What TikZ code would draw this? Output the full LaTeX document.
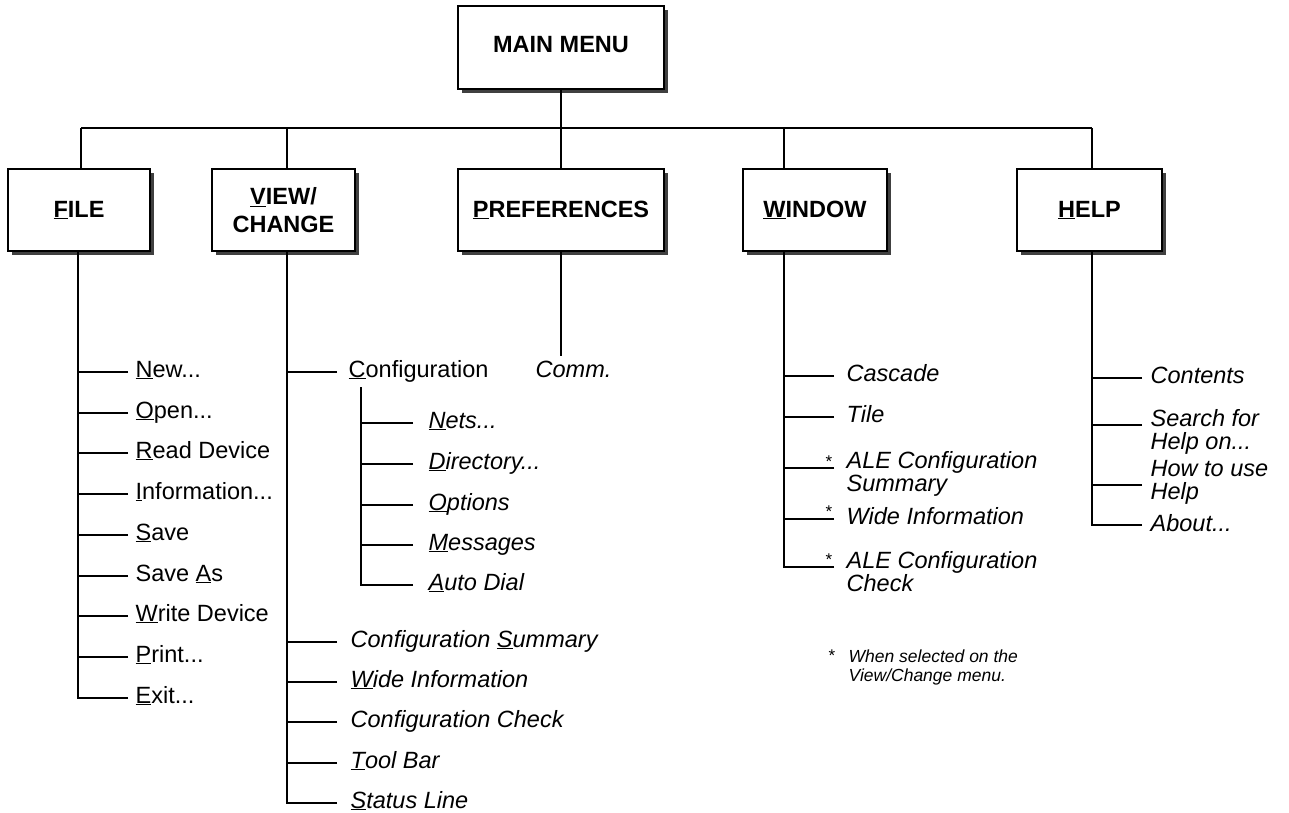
\documentclass[tikz,border=0pt]{standalone}
\usepackage{fontspec}
\setmainfont{Liberation Sans}
\usetikzlibrary{shadows}
\newcommand\mn[1]{\underline{#1}}
\newcommand\two[2]{\begin{tabular}[t]{@{}l@{}}#1\\#2\end{tabular}}
\begin{document}
\begin{tikzpicture}[x=1pt,y=-1pt,
  line width=1.3pt,
  menubox/.style={draw, line width=1.3pt, fill=white, inner sep=0pt,
     drop shadow={shadow xshift=4pt, shadow yshift=-4pt, fill=black!75, opacity=1},
     font=\fontsize{23.5}{28}\selectfont\bfseries, align=center, minimum height=82pt},
  itm/.style={anchor=base west, inner xsep=0pt, inner ysep=4pt, font=\fontsize{23.5}{23}\selectfont},
  iitm/.style={itm, font=\fontsize{23.5}{23}\selectfont\itshape},
  star/.style={font=\fontsize{17}{17}\selectfont, inner sep=0pt},
]
\useasboundingbox (0,0) rectangle (1289,812);

% boxes
\node[menubox, minimum width=206pt, minimum height=83pt] (main) at (561,47.5) {\raisebox{6pt}{MAIN MENU}};
\node[menubox, minimum width=142pt] (file) at (79,210) {\mn{F}ILE};
\node[menubox, minimum width=143pt] (view) at (283.5,210) {\mn{V}IEW/\\CHANGE};
\node[menubox, minimum width=206pt] (pref) at (561,210) {\mn{P}REFERENCES};
\node[menubox, minimum width=144pt] (window) at (815,210) {\mn{W}INDOW};
\node[menubox, minimum width=145pt] (help) at (1089.5,210) {\mn{H}ELP};

% bus
\coordinate (jf) at (81,128);
\coordinate (jv) at (287,128);
\coordinate (jm) at (561,128);
\coordinate (jw) at (784,128);
\coordinate (jh) at (1092,128);
\draw (main.south) -- (jm);
\draw (jf) -- (jh);
\draw (jf) -- (jf |- file.north);
\draw (jv) -- (jv |- view.north);
\draw (jm) -- (pref.north);
\draw (jw) -- (jw |- window.north);
\draw (jh) -- (jh |- help.north);

% FILE column
\node[itm] (fnew)    at (135,377) {\mn{N}ew...};
\node[itm] (fopen)   at (135,418) {\mn{O}pen...};
\node[itm] (fread)   at (135,458) {\mn{R}ead Device};
\node[itm] (finfo)   at (135,499) {\mn{I}nformation...};
\node[itm] (fsave)   at (135,540) {\mn{S}ave};
\node[itm] (fsaveas) at (135,581) {Save \mn{A}s};
\node[itm] (fwrite)  at (135,621) {\mn{W}rite Device};
\node[itm] (fprint)  at (135,662) {\mn{P}rint...};
\node[itm] (fexit)   at (135,703) {\mn{E}xit...};
\foreach \n in {fnew,fopen,fread,finfo,fsave,fsaveas,fwrite,fprint}
  \draw ([shift={(-7pt,5pt)}]\n.base west) -- ++(-50,0);
\draw ([shift={(-7pt,5pt)}]fexit.base west) -- ++(-50,0) coordinate (fc) -- (fc |- file.south);

% VIEW/CHANGE column
\node[itm]  (vconf)  at (348,377) {\mn{C}onfiguration};
\node[iitm] (vsum)   at (350,647) {Configuration \mn{S}ummary};
\node[iitm] (vwide)  at (350,687) {\mn{W}ide Information};
\node[iitm] (vcheck) at (350,727) {Configuration Check};
\node[iitm] (vtool)  at (350,768) {\mn{T}ool Bar};
\node[iitm] (vstat)  at (350,808) {\mn{S}tatus Line};
\draw ([shift={(-11pt,5pt)}]vconf.base west) -- ++(-50,0);
\foreach \n in {vsum,vwide,vcheck,vtool}
  \draw ([shift={(-13pt,5pt)}]\n.base west) -- ++(-50,0);
\draw ([shift={(-13pt,5pt)}]vstat.base west) -- ++(-50,0) coordinate (vc) -- (vc |- view.south);

% Configuration submenu
\node[iitm] (snets) at (428,428) {\mn{N}ets...};
\node[iitm] (sdir)  at (428,469) {\mn{D}irectory...};
\node[iitm] (sopt)  at (428,510) {\mn{O}ptions};
\node[iitm] (smsg)  at (428,550) {\mn{M}essages};
\node[iitm] (sauto) at (428,590) {\mn{A}uto Dial};
\foreach \n in {snets,sdir,sopt,smsg}
  \draw ([shift={(-15pt,5pt)}]\n.base west) -- ++(-52,0);
\draw ([shift={(-15pt,5pt)}]sauto.base west) -- ++(-52,0) coordinate (sc) -- (sc |- vconf.south);

% PREFERENCES
\node[iitm] (comm) at (535,377) {Comm.};
\draw (pref.south) -- (pref.south |- comm.north);

% WINDOW column
\node[iitm] (wcas)  at (846,381) {Cascade};
\node[iitm] (wtile) at (846,422) {Tile};
\node[iitm] (wales) at (846,468) {\two{ALE Configuration}{Summary}};
\node[iitm] (wwide) at (846,524) {Wide Information};
\node[iitm] (walec) at (846,568) {\two{ALE Configuration}{Check}};
\draw ([shift={(-12pt,5pt)}]wcas.base west) -- ++(-50,0);
\draw ([shift={(-12pt,5pt)}]wtile.base west) -- ++(-50,0);
\draw ([shift={(-12pt,0pt)}]wales.base west) -- ++(-50,0);
\draw ([shift={(-12pt,5pt)}]wwide.base west) -- ++(-50,0);
\draw ([shift={(-12pt,1pt)}]walec.base west) -- ++(-50,0) coordinate (wc) -- (wc |- window.south);
\node[star] (st1) at (829,462) {*};
\node[star] (st2) at (829,512) {*};
\node[star] (st3) at (829,560) {*};

% HELP column
\node[iitm] (hcont)   at (1150,383) {Contents};
\node[iitm] (hsearch) at (1150,426) {\two{Search for}{Help on...}};
\node[iitm] (hhow)    at (1150,476) {\two{How to use}{Help}};
\node[iitm] (habout)  at (1150,531) {About...};
\draw ([shift={(-8pt,5pt)}]hcont.base west) -- ++(-50,0);
\draw ([shift={(-8pt,1pt)}]hsearch.base west) -- ++(-50,0);
\draw ([shift={(-8pt,-9pt)}]hhow.base west) -- ++(-50,0);
\draw ([shift={(-8pt,6pt)}]habout.base west) -- ++(-50,0) coordinate (hc) -- (hc |- help.south);

% note
\node[star] (nstar) at (832,656) {*};
\node[anchor=base west, inner sep=0pt, font=\fontsize{17.5}{19}\selectfont\itshape]
  (note) at (848,662) {\two{When selected on the}{View/Change menu.}};
\end{tikzpicture}
\end{document}
